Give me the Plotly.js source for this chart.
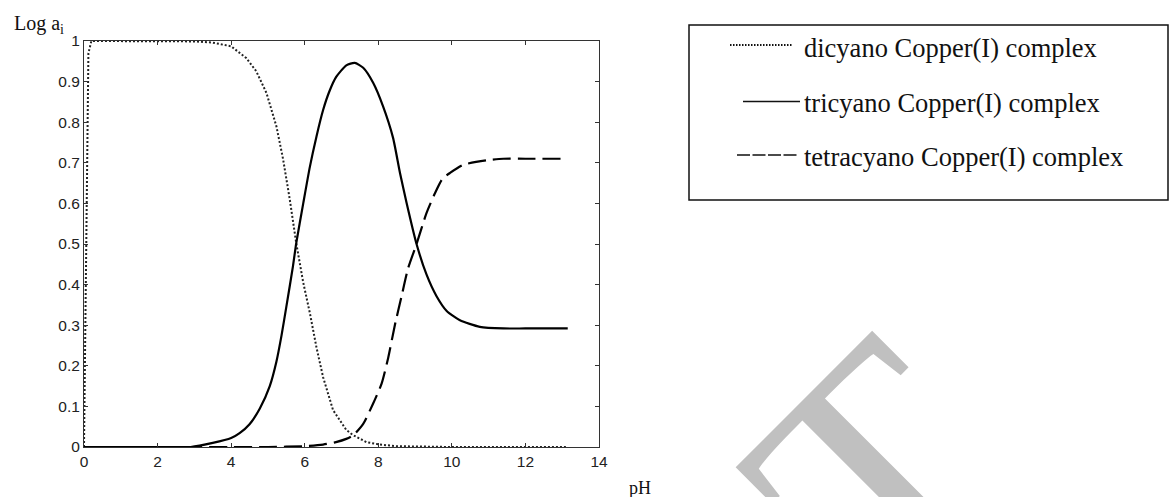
<!DOCTYPE html>
<html>
<head>
<meta charset="utf-8">
<script src="https://cdn.plot.ly/plotly-3.0.1.min.js"></script>
<style>html,body{margin:0;padding:0;background:#fff;}#chart{width:1170px;height:497px;}</style>
</head>
<body>
<div id="chart"></div>
<script>
// ---- data ----
const seriesNames = ["dicyano Copper(I) complex", "tricyano Copper(I) complex", "tetracyano Copper(I) complex"];

const dicyanoPH = [0, 0.04, 0.08, 0.12, 0.2, 1, 2, 3, 3.5, 4.0, 4.41, 4.68, 4.96, 5.23, 5.41, 5.59, 5.77, 5.96, 6.14, 6.32, 6.5, 6.77, 7.13, 7.32, 7.68, 8.04, 8.5, 9, 10, 11, 12, 13.1];
const dicyanoA  = [0, 0.3, 0.7, 0.97, 1.0, 1.0, 1.0, 0.999, 0.996, 0.987, 0.958, 0.926, 0.872, 0.79, 0.71, 0.612, 0.502, 0.405, 0.33, 0.245, 0.172, 0.091, 0.042, 0.029, 0.012, 0.006, 0.002, 0.001, 0, 0, 0, 0];

const tricyanoPH = [0, 1, 2, 2.9, 3.5, 4.0, 4.23, 4.5, 4.78, 5.05, 5.23, 5.37, 5.5, 5.68, 5.77, 5.96, 6.14, 6.32, 6.5, 6.68, 6.86, 7.13, 7.36, 7.59, 7.86, 8.13, 8.4, 8.59, 8.77, 9.04, 9.31, 9.58, 9.86, 10.22, 10.76, 11.4, 12, 13.15];
const tricyanoA  = [0, 0, 0, 0, 0.01, 0.022, 0.034, 0.056, 0.095, 0.15, 0.21, 0.275, 0.345, 0.445, 0.502, 0.6, 0.69, 0.765, 0.83, 0.878, 0.912, 0.94, 0.946, 0.934, 0.897, 0.839, 0.762, 0.675, 0.601, 0.5, 0.425, 0.372, 0.335, 0.312, 0.296, 0.292, 0.292, 0.292];

const tetracyanoPH = [0, 2, 4, 5, 6, 6.5, 6.85, 7.13, 7.32, 7.59, 7.86, 8.09, 8.27, 8.45, 8.63, 8.81, 9.04, 9.31, 9.54, 9.74, 9.95, 10.31, 10.94, 11.4, 12, 13.05];
const tetracyanoA  = [0, 0, 0, 0, 0.002, 0.006, 0.012, 0.02, 0.029, 0.057, 0.107, 0.156, 0.22, 0.3, 0.37, 0.44, 0.5, 0.576, 0.625, 0.66, 0.675, 0.695, 0.706, 0.71, 0.71, 0.71];

const xTicks = [0, 2, 4, 6, 8, 10, 12, 14];
const yTicks = [0, 0.1, 0.2, 0.3, 0.4, 0.5, 0.6, 0.7, 0.8, 0.9, 1];

// ---- chart ----
const traces = [
  {x: dicyanoPH, y: dicyanoA, name: seriesNames[0], mode: "lines",
   line: {color: "#222", width: 2, dash: "2px,2px"}},
  {x: tricyanoPH, y: tricyanoA, name: seriesNames[1], mode: "lines",
   line: {color: "#000", width: 2.2, shape: "spline", smoothing: 0.6}},
  {x: tetracyanoPH, y: tetracyanoA, name: seriesNames[2], mode: "lines",
   line: {color: "#000", width: 2.2, dash: "18px,7px", shape: "spline", smoothing: 0.6}}
];

const L = 84, R = 571, T = 41, B = 50, W = 1170, H = 497;
const pw = W - L - R, ph = H - T - B;
const px = v => (v - L) / pw;          // pixel -> paper x
const py = v => (H - B - v) / ph;      // pixel -> paper y

const serif = "Liberation Serif, Times New Roman, serif";
const legendRows = [
  {y: 48,  lineY: 45,  x0: 730, x1: 793, dash: "1.5px,1.5px", width: 2},
  {y: 103, lineY: 101.5, x0: 743, x1: 800, dash: "solid", width: 1.5},
  {y: 157, lineY: 155, x0: 737, x1: 798, dash: "13px,2.5px", width: 1.3}
];

const shapes = [
  {type: "rect", xref: "paper", yref: "paper", x0: px(689), x1: px(1168), y0: py(200), y1: py(25),
   line: {color: "#111", width: 1.5}, fillcolor: "rgba(0,0,0,0)"}
];
const annotations = [
  {text: "T", xref: "paper", yref: "paper", x: px(878), y: py(474), xanchor: "center", yanchor: "middle",
   showarrow: false, textangle: -45, font: {family: serif, size: 335, color: "#c0c0c0"}},
  {text: "Log a<sub>i</sub>", xref: "paper", yref: "paper", x: px(12), y: py(24), xanchor: "left", yanchor: "middle",
   showarrow: false, font: {family: serif, size: 20, color: "#111"}},
  {text: "pH", xref: "paper", yref: "paper", x: px(640), y: py(488), xanchor: "center", yanchor: "middle",
   showarrow: false, font: {family: serif, size: 18, color: "#111"}}
];
legendRows.forEach((r, i) => {
  shapes.push({type: "line", xref: "paper", yref: "paper", x0: px(r.x0), x1: px(r.x1), y0: py(r.lineY), y1: py(r.lineY),
    line: {color: "#111", width: r.width, dash: r.dash}});
  annotations.push({text: seriesNames[i], xref: "paper", yref: "paper", x: px(802), y: py(r.y),
    xanchor: "left", yanchor: "middle", showarrow: false, font: {family: serif, size: 26.5, color: "#111"}});
});

const axisCommon = {
  showgrid: false, zeroline: false, showline: true, linecolor: "#333", linewidth: 1,
  mirror: "ticks", ticks: "inside", ticklen: 4, tickcolor: "#333", tickwidth: 1,
  tickfont: {family: "Liberation Sans, Arial, sans-serif", size: 15.5, color: "#222"}
};

const layout = {
  width: W, height: H,
  margin: {l: L, r: R, t: T, b: B, pad: 0},
  paper_bgcolor: "#fff", plot_bgcolor: "#fff",
  showlegend: false,
  xaxis: Object.assign({}, axisCommon, {range: [0, 14], tickvals: xTicks, ticktext: xTicks.map(String)}),
  yaxis: Object.assign({}, axisCommon, {range: [0, 1], tickvals: yTicks, ticktext: yTicks.map(String)}),
  shapes: shapes,
  annotations: annotations
};

Plotly.newPlot("chart", traces, layout, {displayModeBar: false, staticPlot: true});
</script>
</body>
</html>
